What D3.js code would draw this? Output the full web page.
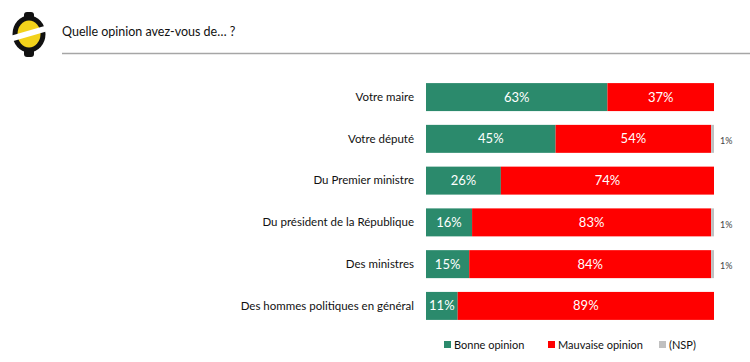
<!DOCTYPE html>
<html>
<head>
<meta charset="utf-8">
<script src="https://cdn.jsdelivr.net/npm/d3@7"></script>
<style>
  body { margin: 0; background: #fff; }
  svg { font-family: Lato, 'Open Sans', sans-serif; }
</style>
</head>
<body>
<svg id="chart" width="750" height="362"></svg>
<script>

const categories = [
    'Votre maire',
    'Votre député',
    'Du Premier ministre',
    'Du président de la République',
    'Des ministres',
    'Des hommes politiques en général'
]

const bonne = [63, 45, 26, 16, 15, 11]
const mauvaise = [37, 54, 74, 83, 84, 89]
const nsp = [0, 1, 0, 1, 1, 0]

const seriesNames = ['Bonne opinion', 'Mauvaise opinion', '(NSP)']
const colors = ['#2b8a6c', '#ff0000', '#c0c0c0']

const svg = d3.select('#chart')

// header: logo, question, rule
const logo = svg.append('g').attr('transform', 'translate(29,34)')
logo.append('rect').attr('x', -5).attr('y', -22).attr('width', 10).attr('height', 45).attr('rx', 3).attr('fill', '#111')
logo.append('ellipse').attr('rx', 16.5).attr('ry', 18.5).attr('fill', '#111')
logo.append('ellipse').attr('rx', 11.5).attr('ry', 13.5).attr('fill', '#f2d21b')
logo.append('path')
    .attr('d', 'M-19,2 L19,-9 L19,-3 L-19,8 Z')
    .attr('fill', '#fff')

svg.append('text')
    .attr('x', 62).attr('y', 36)
    .attr('font-size', 12.5)
    .attr('fill', '#111')
    .text('Quelle opinion avez-vous de… ?')

svg.append('line')
    .attr('x1', 62).attr('x2', 750)
    .attr('y1', 53.5).attr('y2', 53.5)
    .attr('stroke', '#a6a6a6').attr('stroke-width', 1.5)

// scales
const x = d3.scaleLinear().domain([0, 100]).range([426, 714])
const y = d3.scaleBand().domain(categories).range([76, 327]).paddingInner(0.33).paddingOuter(0.17)

const rows = categories.map((c, i) => {
    const vals = [bonne[i], mauvaise[i], nsp[i]]
    let acc = 0
    return { cat: c, segs: vals.map((v, k) => { const s = { k, v, x0: acc }; acc += v; return s }) }
})

const yAxis = d3.axisLeft(y).tickSize(0).tickPadding(12)
const yg = svg.append('g').attr('transform', 'translate(' + x(0) + ',0)').call(yAxis)
yg.select('.domain').remove()
yg.selectAll('.tick text')
    .attr('font-family', 'Lato, sans-serif')
    .attr('font-size', 11.5)
    .attr('fill', '#111')

const row = svg.append('g').selectAll('g').data(rows).enter().append('g')
    .attr('transform', d => 'translate(0,' + y(d.cat) + ')')

row.selectAll('rect').data(d => d.segs.filter(s => s.v > 0)).enter().append('rect')
    .attr('x', s => x(s.x0))
    .attr('width', s => x(s.x0 + s.v) - x(s.x0))
    .attr('y', 0)
    .attr('height', y.bandwidth())
    .attr('fill', s => colors[s.k])

row.selectAll('text.in').data(d => d.segs.filter(s => s.k < 2)).enter().append('text')
    .attr('class', 'in')
    .attr('x', s => x(s.x0 + s.v / 2))
    .attr('y', y.bandwidth() / 2)
    .attr('dy', '0.35em')
    .attr('text-anchor', 'middle')
    .attr('font-size', 13)
    .attr('fill', '#fff')
    .text(s => s.v + '%')

row.selectAll('text.out').data(d => d.segs.filter(s => s.k === 2 && s.v > 0)).enter().append('text')
    .attr('class', 'out')
    .attr('x', x(100) + 6)
    .attr('y', y.bandwidth() / 2 + 2)
    .attr('dy', '0.35em')
    .attr('font-size', 9)
    .attr('fill', '#444')
    .text(s => s.v + '%')

// legend
const legendX = [444, 548, 659]
const legend = svg.append('g').selectAll('g').data(seriesNames).enter().append('g')
    .attr('transform', (d, i) => 'translate(' + legendX[i] + ',345)')

legend.append('rect').attr('x', 0).attr('y', -4).attr('width', 7).attr('height', 7)
    .attr('fill', (d, i) => colors[i])
legend.append('text').attr('x', 10).attr('y', 0).attr('dy', '0.35em')
    .attr('font-size', 11).attr('fill', '#111')
    .text(d => d)

</script>
</body>
</html>
